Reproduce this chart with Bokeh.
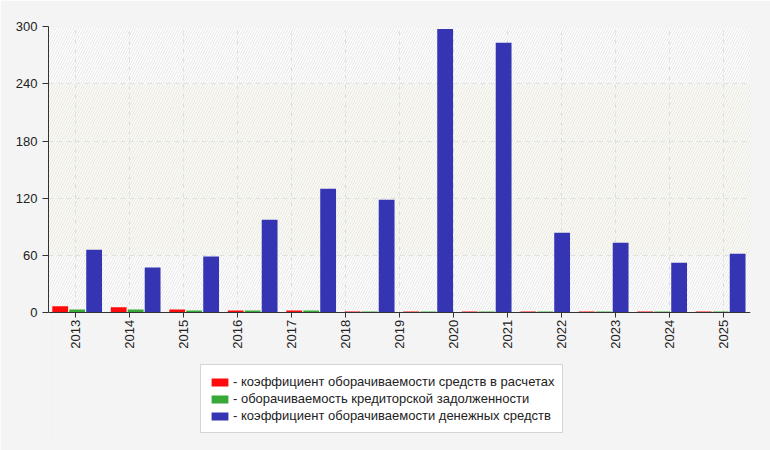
import numpy as np
from bokeh.plotting import figure
from bokeh.models import (Range1d, LinearAxis, FixedTicker, Grid, BoxAnnotation,
                          Legend, LegendItem, ColumnDataSource)
from bokeh.embed import file_html
from bokeh.resources import INLINE

# ---- data ----
years = ["2013", "2014", "2015", "2016", "2017", "2018", "2019",
         "2020", "2021", "2022", "2023", "2024", "2025"]
red_vals = [6.9, 5.9, 3.5, 2.4, 2.4, 1.5, 1.4, 1.4, 1.4, 1.4, 1.4, 1.4]
green_vals = [3.5, 3.5, 2.4, 2.4, 2.4, 1.5, 1.4, 1.4, 1.4, 1.4, 1.4, 1.4]
blue_vals = [66, 47.5, 59, 97.5, 130, 118.5, 297.5, 283, 84, 73.5, 52.5, 62]
y_ticks = [0, 60, 120, 180, 240, 300]
labels = ["- коэффициент оборачиваемости средств в расчетах",
          "- оборачиваемость кредиторской задолженности",
          "- коэффициент оборачиваемости денежных средств"]
colors = ["#ff0a0a", "#37a936", "#3534b3"]

FONT = "Liberation Sans"
PAGE_BG = "#f4f4f4"
Y_MAX = 300
Y_LOW = -133.8   # frame extends below the value axis to host the legend

p = figure(width=770, height=450,
           x_range=Range1d(-0.5, len(years) - 0.5), y_range=Range1d(Y_LOW, Y_MAX),
           output_backend="svg", toolbar_location=None,
           x_axis_location=None, y_axis_location=None,
           min_border_left=48, min_border_right=20, min_border_top=26, min_border_bottom=10,
           background_fill_color=PAGE_BG, border_fill_color=PAGE_BG,
           outline_line_color=None)
p.extra_x_ranges = {"groups": Range1d(0, len(blue_vals))}
p.grid.visible = False

# plot area background, band + hatch
p.add_layout(BoxAnnotation(left=-0.5, right=12.5, bottom=0, top=Y_MAX,
                           fill_color="white", fill_alpha=1, line_color=None,
                           level="underlay"))
p.add_layout(BoxAnnotation(left=-0.5, right=12.5, bottom=60, top=240,
                           fill_color="#fcfcf3", fill_alpha=1, line_color=None,
                           level="underlay"))

xt = FixedTicker(ticks=list(range(len(years))))
yt = FixedTicker(ticks=y_ticks)
p.add_layout(Grid(dimension=0, ticker=xt, grid_line_color="#dddddd",
                  grid_line_dash="5 4", grid_line_width=1))
p.add_layout(Grid(dimension=1, ticker=yt, grid_line_color="#dddddd",
                  grid_line_dash="5 4", grid_line_width=1))

p.add_layout(BoxAnnotation(left=-0.5, right=12.5, bottom=0, top=Y_MAX,
                           fill_alpha=0, line_color="#dddddd", line_width=1,
                           hatch_pattern="/", hatch_color="#e6e6e6", hatch_alpha=1,
                           hatch_scale=5, hatch_weight=1, level="underlay"))
# area under the axis: same colour as the page (hides grid lines there)
p.add_layout(BoxAnnotation(left=-0.5, right=12.5, bottom=Y_LOW, top=0,
                           fill_color=PAGE_BG, fill_alpha=1, line_color=None,
                           level="underlay"))

idx = np.arange(len(blue_vals))
src = ColumnDataSource(dict(xr=idx + 0.2, xg=idx + 0.49, xb=idx + 0.78,
                            red=red_vals, green=green_vals, blue=blue_vals))
r1 = p.vbar(x="xr", top="red", bottom=0, width=0.27, source=src, x_range_name="groups",
            fill_color=colors[0], line_color=None)
r2 = p.vbar(x="xg", top="green", bottom=0, width=0.27, source=src, x_range_name="groups",
            fill_color=colors[1], line_color=None)
r3 = p.vbar(x="xb", top="blue", bottom=0, width=0.27, source=src, x_range_name="groups",
            fill_color=colors[2], line_color=None)

xaxis = LinearAxis(ticker=xt, fixed_location=0,
                   major_label_overrides={i: y for i, y in enumerate(years)},
                   major_label_orientation=np.pi / 2,
                   major_label_text_font=FONT, major_label_text_font_size="13px",
                   major_label_text_color="#222222",
                   major_tick_out=5, major_tick_in=0, minor_tick_out=0, minor_tick_in=0,
                   major_label_standoff=2,
                   axis_line_color="#333333", major_tick_line_color="#333333")
yaxis = LinearAxis(ticker=yt, bounds=(0, Y_MAX),
                   major_label_text_font=FONT, major_label_text_font_size="13px",
                   major_label_text_color="#222222",
                   major_tick_out=6, major_tick_in=0, minor_tick_out=0, minor_tick_in=0,
                   major_label_standoff=5,
                   axis_line_color="#333333", major_tick_line_color="#333333")
p.add_layout(xaxis, "below")
p.add_layout(yaxis, "left")

legend = Legend(items=[LegendItem(label=labels[0], renderers=[r1]),
                       LegendItem(label=labels[1], renderers=[r2]),
                       LegendItem(label=labels[2], renderers=[r3])],
                location=(152, 7), orientation="vertical",
                padding=8, spacing=0, margin=0, label_standoff=3,
                glyph_width=21, glyph_height=10, label_height=17,
                label_text_font=FONT, label_text_font_size="13px",
                label_text_color="#222222",
                border_line_color="#aaaaaa", background_fill_color="white",
                background_fill_alpha=1)
p.add_layout(legend, "center")

open("out.html", "w").write(file_html(p, INLINE))
